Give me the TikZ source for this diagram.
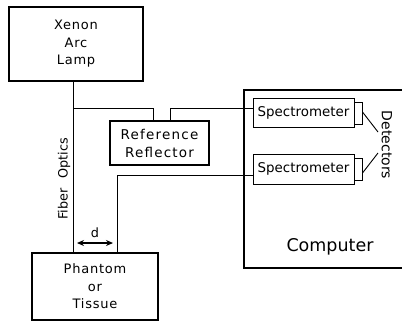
\documentclass[tikz,border=0pt]{standalone}
\usepackage{fontspec}
\setmainfont{DejaVu Sans}
\usetikzlibrary{arrows.meta}
\begin{document}
\begin{tikzpicture}[x=1pt,y=-1pt,
  thickbox/.style={draw, line width=1.8pt, inner sep=0pt},
  thinbox/.style={draw, line width=1pt, inner sep=0pt},
  fiber/.style={line width=0.9pt},
  lbl/.style={font=\fontsize{13}{17.5}\selectfont\addfontfeature{LetterSpace=6}, align=center},
  reflbl/.style={font=\fontsize{13.5}{18}\selectfont\addfontfeature{LetterSpace=9}, align=center},
  speclbl/.style={font=\fontsize{13.4}{15}\selectfont},
  plain/.style={font=\fontsize{12.8}{15}\selectfont}]
\useasboundingbox (0,0) rectangle (402,322);
\clip (0,0) rectangle (402,322);
% boxes
\node[thickbox, lbl, minimum width=134pt, minimum height=74pt] (lamp) at (76,44) {Xenon\\Arc\\Lamp};
\node[thickbox, reflbl, minimum width=99pt, minimum height=44pt] (ref) at (159.5,143) {Reference\\Reflector};
\node[thickbox, lbl, minimum width=126pt, minimum height=67pt] (phantom) at (95,286.5) {Phantom\\or\\Tissue};
\node[thickbox, minimum width=196pt, minimum height=178pt] (comp) at (342,179) {};
\node[font=\fontsize{17.5}{20}\selectfont] (comptext) at (330,247) {Computer};
\node[thinbox, speclbl, minimum width=101pt, minimum height=29pt] (spec1) at (303.5,112.5) {Spectrometer};
\node[thinbox, speclbl, minimum width=101pt, minimum height=30pt] (spec2) at (303.5,169) {Spectrometer};
\node[thinbox, minimum width=8pt, minimum height=22pt] (det1) at (358,113) {};
\node[thinbox, minimum width=8pt, minimum height=22pt] (det2) at (358,169) {};
\node[font=\fontsize{14}{15}\selectfont, rotate=-90] (dettext) at (387,145) {Detectors};
\node[plain, rotate=90] (fibertext) at (64,179) {Fiber\hspace{10pt}Optics};
% fibers
\coordinate (j1) at (73,108);
\coordinate (r1) at (153,121);
\coordinate (r2) at (170,121);
\coordinate (s1in) at (253,108);
\coordinate (f2) at (117,253);
\coordinate (s2in) at (253,175);
\draw[fiber] (lamp.south -| j1) -- (phantom.north -| j1);
\draw[fiber] (j1) -| (r1);
\draw[fiber] (r2) |- (s1in);
\draw[fiber] (f2) |- (s2in);
% distance d
\coordinate (da) at (77,243);
\coordinate (db) at (113,243);
\draw[line width=1.2pt, {Stealth[length=7pt,width=6pt]}-{Stealth[length=7pt,width=6pt]}] (da) -- node[plain, above=1pt] (dlabel) {d} (db);
% detector leaders
\coordinate (l1) at (378,132);
\coordinate (l2) at (378,153);
\draw[line width=0.9pt] (det1.east) ++(0,-1) -- (l1);
\draw[line width=0.9pt] (det2.east) ++(0,4) -- (l2);
\end{tikzpicture}
\end{document}
